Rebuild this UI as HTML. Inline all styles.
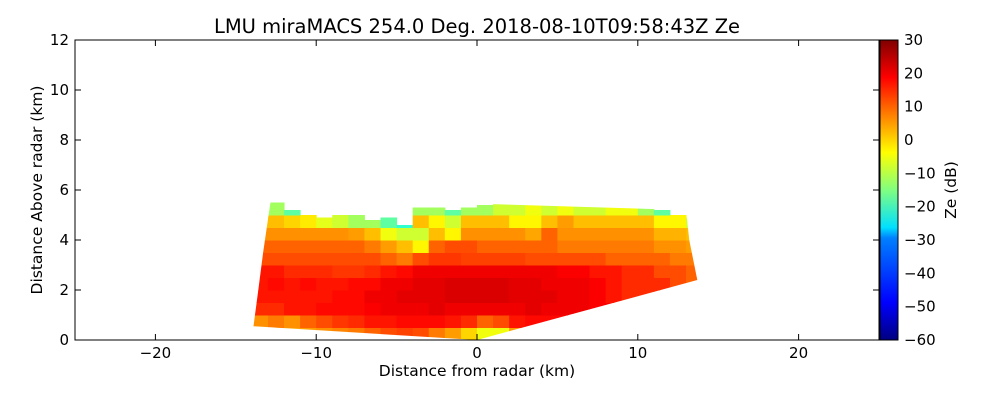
<!DOCTYPE html>
<html><head><meta charset="utf-8"><style>
body{margin:0;background:#fff;}
svg{display:block;font-family:"DejaVu Sans","Liberation Sans",sans-serif;}
</style></head><body>
<svg id="chart" width="1000" height="400" viewBox="0 0 1000 400">
<defs>
<linearGradient id="jet" x1="0" y1="1" x2="0" y2="0">
<stop offset="0" stop-color="#000080"/><stop offset="0.11" stop-color="#0000f0"/><stop offset="0.125" stop-color="#0000ff"/>
<stop offset="0.34" stop-color="#0080ff"/><stop offset="0.375" stop-color="#00e0ff"/><stop offset="0.5" stop-color="#80ff80"/>
<stop offset="0.625" stop-color="#ffff00"/><stop offset="0.75" stop-color="#ff8000"/><stop offset="0.875" stop-color="#ff0000"/>
<stop offset="1" stop-color="#800000"/></linearGradient>
<clipPath id="domain"><polygon id="domainPoly"/></clipPath>
</defs>
<text x="477" y="33" text-anchor="middle" font-size="19.5">LMU miraMACS 254.0 Deg. 2018-08-10T09:58:43Z  Ze</text>
<g id="cells" clip-path="url(#domain)"></g>
<rect x="75" y="40" width="804" height="300" fill="none" stroke="#000" stroke-width="1"/>
<g id="axes"></g>
<rect x="880" y="40" width="18" height="300" fill="url(#jet)" stroke="#000"/>
<text x="477" y="376" text-anchor="middle" font-size="15.5">Distance from radar (km)</text>
<text transform="translate(42,190) rotate(-90)" text-anchor="middle" font-size="15.5">Distance Above radar  (km)</text>
<text transform="translate(956,190) rotate(-90)" text-anchor="middle" font-size="15.5">Ze (dB)</text>
</svg>
<script>
const xTicks=[-20,-10,0,10,20];
const yTicks=[0,2,4,6,8,10,12];
const cbTicks=[30,20,10,0,-10,-20,-30,-40,-50,-60];
const colStarts=[-14,-13,-12,-11,-10,-9,-8,-7,-6,-5,-4,-3,-2,-1,0,1,2,3,4,5,6,7,8,9,10,11,12,13];
const rowStarts=[0,0.5,1,1.5,2,2.5,3,3.5,4,4.5,5,5.5];
const tops=[5.6,5.5,5.2,5.0,4.9,5.0,5.0,4.8,4.9,4.6,5.3,5.3,5.2,5.3,5.4,5.5,5.8,5.8,5.6,5.5,5.4,5.5,5.7,5.8,5.5,5.2,5.0,4.9];
const ze=[
[0,2,4,5,6,7,8,10,12,13,12,8,5,0,-5,-5,5,10,15,15,15,15,15,15,15,15,15,15],
[6,8,6,10,12,14,15,17,17,18,18,18,17,15,10,12,17,18,18,18,18,18,18,18,18,18,18,18],
[15,15,17,17,18,18,18,19,20,20,20,21,20,20,20,20,20,21,20,20,20,19,19,17,15,15,12,10],
[17,17,17,17,17,18,18,20,20,21,21,21,22,22,22,22,21,21,21,20,20,19,17,15,15,15,12,10],
[17,18,17,18,17,17,18,18,20,20,21,21,22,22,22,22,21,21,20,20,20,19,17,15,15,15,12,10],
[17,17,15,15,15,14,14,15,17,18,20,20,20,20,20,20,20,20,20,19,19,17,17,15,15,12,12,10],
[12,12,12,12,12,12,12,12,10,8,12,14,14,13,13,13,13,12,12,12,12,12,10,10,10,10,8,8],
[10,10,10,10,10,10,10,8,5,2,-3,10,12,12,10,10,10,10,10,8,8,8,8,8,8,6,6,5],
[6,6,6,6,6,6,5,2,-5,-8,-8,2,-3,6,6,6,6,4,10,6,6,6,6,6,6,3,3,2],
[2,2,0,-2,-6,-8,-12,-12,-18,-22,2,-3,-8,2,2,2,-3,-3,2,5,2,2,2,2,2,-3,-3,-8],
[-8,-12,-18,-20,-25,-25,-25,-25,-30,-30,-12,-12,-18,-12,-12,-8,-8,-5,-8,-5,-8,-8,-5,-5,-12,-18,-22,-28],
[-20,-25,-30,-30,-30,-30,-30,-30,-35,-35,-25,-25,-30,-25,-25,-20,-20,-15,-20,-15,-20,-25,-15,-15,-25,-30,-30,-35]];
const X=v=>477+v*16.08, Y=v=>340-v*25;
const NS="http://www.w3.org/2000/svg";
function jet(v){const t=Math.max(0,Math.min(1,(v+60)/90));
 const r=Math.max(0,Math.min(1,Math.min(4*t-1.5,-4*t+4.5))),g=Math.max(0,Math.min(1,Math.min(4*t-0.5,-4*t+3.5))),b=Math.max(0,Math.min(1,Math.min(4*t+0.5,-4*t+2.5)));
 return `rgb(${Math.round(r*255)},${Math.round(g*255)},${Math.round(b*255)})`;}
const dom=[[-13.9,0.55],[-13.6,2],[-13.3,3.5],[-12.8,5.7],[13.0,5.2],[13.2,4.0],[13.7,2.4],[0,0]];
document.getElementById('domainPoly').setAttribute('points',dom.map(p=>X(p[0])+','+Y(p[1])).join(' '));
const cells=document.getElementById('cells');
rowStarts.forEach((r,i)=>colStarts.forEach((c,j)=>{
 const top=Math.min(r+0.5,tops[j]); if(top<=r)return;
 const el=document.createElementNS(NS,'rect');
 el.setAttribute('x',X(c));el.setAttribute('y',Y(top));
 el.setAttribute('width',16.08+0.5);el.setAttribute('height',(top-r)*25+0.5);
 el.setAttribute('fill',jet(ze[i][j]));
 
 
 cells.appendChild(el);}));
const ax=document.getElementById('axes');
function add(tag,attrs,txt){const e=document.createElementNS(NS,tag);for(const k in attrs)e.setAttribute(k,attrs[k]);if(txt!=null)e.textContent=txt;ax.appendChild(e);return e;}
xTicks.forEach(t=>{const x=X(t);
 const l=add('line',{x1:x,x2:x,y1:340,y2:334,stroke:'#000'});
 const l2=add('line',{x1:x,x2:x,y1:40,y2:46,stroke:'#000'});
 const tx=add('text',{x:x,y:358,'text-anchor':'middle','font-size':15},(t<0?'\u2212':'')+Math.abs(t));});
yTicks.forEach(t=>{const y=Y(t);
 const l=add('line',{x1:75,x2:81,y1:y,y2:y,stroke:'#000'});
 const l2=add('line',{x1:873,x2:879,y1:y,y2:y,stroke:'#000'});
 const tx=add('text',{x:69,y:y+5,'text-anchor':'end','font-size':15},t);});
cbTicks.forEach(t=>{const y=340-(t+60)/90*300;
 const l=add('line',{x1:892,x2:898,y1:y,y2:y,stroke:'#000'});
 const tx=add('text',{x:904,y:y+5,'font-size':15},(t<0?'\u2212':'')+Math.abs(t));});
</script>
</body></html>
